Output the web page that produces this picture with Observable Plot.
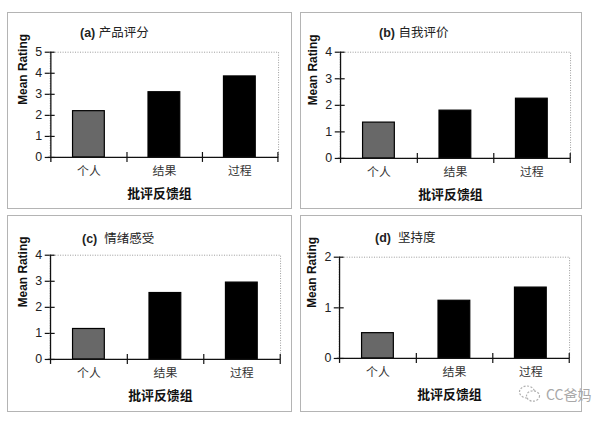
<!DOCTYPE html>
<html>
<head>
<meta charset="utf-8">
<script src="https://cdn.jsdelivr.net/npm/d3@7"></script>
<script src="https://cdn.jsdelivr.net/npm/@observablehq/plot@0.6"></script>
<style>
  html, body { margin: 0; padding: 0; background: #fff; }
  body { width: 616px; height: 421px; position: relative; overflow: hidden;
         font-family: "Liberation Sans", Arial, "Noto Sans CJK SC", sans-serif; }
  .panel { position: absolute; box-sizing: border-box; border: 1.5px solid #b4b4b4; background: #fff; }
  .panel svg { position: absolute; left: -1.5px; top: -1.5px; overflow: visible; }
  .title { position: absolute; font-size: 12.5px; color: #222; white-space: pre; line-height: 1; }
  .title b { font-family: "Liberation Sans", Arial, sans-serif; }
  .wm { position: absolute; left: 518px; top: 384px; color: #a8a8a8; font-size: 14px; font-family: "Noto Sans CJK SC", sans-serif; display: flex; align-items: center; gap: 4px; }
</style>
</head>
<body>
<script>
// ---- data ----
const categories = ["个人", "结果", "过程"];
const productRating = [2.2, 3.1, 3.85];
const selfAssessment = [1.35, 1.8, 2.25];
const affect = [1.17, 2.55, 2.95];
const persistence = [0.5, 1.14, 1.4];

const panelLetters = ["(a)", "(b)", "(c)", "(d)"];
const panelNames = ["产品评分", "自我评价", "情绪感受", "坚持度"];
const yTicksA = [0, 1, 2, 3, 4, 5];
const yTicksB = [0, 1, 2, 3, 4];
const yTicksC = [0, 1, 2, 3, 4];
const yTicksD = [0, 1, 2];
const yLabel = "Mean Rating";
const xLabel = "批评反馈组";
const watermark = "CC爸妈";

// ---- layout (styles / positions) ----
const panels = [
  {values: productRating, ticks: yTicksA, box: [7, 12, 285, 197], m: [40, 12, 51, 43], title: [72, 14], sep: " "},
  {values: selfAssessment, ticks: yTicksB, box: [300, 12, 282, 197], m: [40, 10, 50, 40], title: [78, 14], sep: " "},
  {values: affect, ticks: yTicksC, box: [7, 215, 285, 197], m: [40, 10, 52, 43], title: [74, 17], sep: "  "},
  {values: persistence, ticks: yTicksD, box: [300, 215, 282, 197], m: [42, 11, 53, 39], title: [74, 16], sep: "  "}
];

panels.forEach((p, k) => {
  const [left, top, w, h] = p.box;
  const [mt, mr, mb, ml] = p.m;
  const div = document.createElement("div");
  div.className = "panel";
  Object.assign(div.style, {left: left + "px", top: top + "px", width: w + "px", height: h + "px"});
  document.body.appendChild(div);

  const t = document.createElement("div");
  t.className = "title";
  t.style.left = p.title[0] + "px";
  t.style.top = p.title[1] + "px";
  t.innerHTML = `<b>${panelLetters[k]}</b>${p.sep}${panelNames[k]}`;
  div.appendChild(t);

  const data = categories.map((c, i) => ({cat: c, value: p.values[i]}));
  const innerW = w - ml - mr;
  const step = innerW / categories.length;
  const yMax = p.ticks[p.ticks.length - 1];

  const chart = Plot.plot({
    width: w, height: h,
    marginTop: mt, marginRight: mr, marginBottom: mb, marginLeft: ml,
    style: {fontFamily: '"Liberation Sans", Arial, "Noto Sans CJK SC", sans-serif', fontSize: "12px", background: "transparent", color: "#222"},
    x: {domain: categories, paddingInner: 0.58, paddingOuter: 0.29},
    y: {domain: [0, yMax]},
    marks: [
      Plot.frame({stroke: "#9a9a9a", strokeDasharray: "1,1.5", strokeWidth: 1}),
      Plot.barY(data, {x: "cat", y: "value", fill: d => d.cat === categories[0] ? "#686868" : "#000", stroke: "#000", strokeWidth: 1.2}),
      Plot.ruleY([0], {stroke: "#111", strokeWidth: 1.3, insetLeft: -2}),
      // y-axis line, extending slightly below zero
      Plot.ruleX([categories[0]], {x: d => d, dx: -step / 2, y1: yMax, y2: 0, insetBottom: -5, stroke: "#111", strokeWidth: 1.3}),
      // boundary ticks on the x axis
      Plot.ruleX(categories, {x: d => d, dx: step / 2, y1: 0, y2: 0, insetTop: -5, insetBottom: -5, stroke: "#111", strokeWidth: 1.2}),
      // inner halves of y ticks
      Plot.ruleY(p.ticks, {y: d => d, insetRight: innerW - 5, stroke: "#111", strokeWidth: 1.2}),
      Plot.axisY({ticks: p.ticks, tickSize: 5, tickPadding: 3, tickFormat: d => d, label: null, fontSize: 12.5, stroke: "#111", strokeWidth: 1.2, fill: "#222"}),
      Plot.axisX({tickSize: 0, tickPadding: 9, label: null, fontSize: 12, fill: "#333"}),
      Plot.text([yLabel], {frameAnchor: "left", rotate: -90, dx: -27, fontWeight: "bold", fontSize: 12, fill: "#111"}),
      Plot.text([xLabel], {frameAnchor: "bottom", dy: 41, dx: -5, fontWeight: "bold", fontSize: 13, fill: "#111"})
    ]
  });
  div.appendChild(chart);
});

const wm = document.createElement("div");
wm.className = "wm";
wm.innerHTML = `<svg width="24" height="20" viewBox="0 0 24 20"><ellipse cx="9" cy="8" rx="7.5" ry="6" fill="none" stroke="#b0b0b0" stroke-width="1.2" stroke-dasharray="2,1.5"/><ellipse cx="15" cy="12" rx="6.5" ry="5.2" fill="#fff" stroke="#b0b0b0" stroke-width="1.2" stroke-dasharray="2,1.5"/></svg><span>${watermark}</span>`;
document.body.appendChild(wm);
</script>
</body>
</html>
